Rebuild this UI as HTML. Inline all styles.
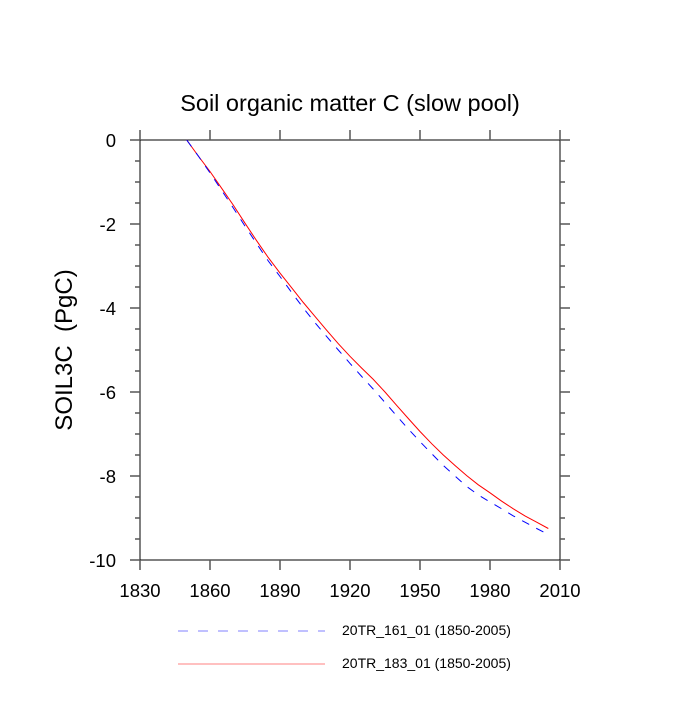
<!DOCTYPE html>
<html><head><meta charset="utf-8"><style>
html,body{margin:0;padding:0;background:#fff;}
svg text{font-family:"Liberation Sans",sans-serif;fill:#000;}
</style></head><body>
<svg id="chart" width="700" height="700" xmlns="http://www.w3.org/2000/svg">
<text x="350" y="111" font-size="23.5" text-anchor="middle">Soil organic matter C (slow pool)</text>
<text transform="translate(72,350) rotate(-90)" font-size="24" text-anchor="middle" style="white-space:pre">SOIL3C  (PgC)</text>
<g id="axes"></g>
<g id="series"></g>
<g>
<line x1="178" y1="631" x2="325" y2="631" stroke="#8080ff" stroke-width="1" stroke-dasharray="10,10"/>
<text x="342" y="635" font-size="14">20TR_161_01 (1850-2005)</text>
<line x1="178" y1="664" x2="325" y2="664" stroke="#ff8080" stroke-width="1"/>
<text x="342" y="668" font-size="14">20TR_183_01 (1850-2005)</text>
</g>
</svg>
<script>
const years = [1850,1855,1860,1865,1870,1875,1880,1885,1890,1895,1900,1905,1910,1915,1920,1925,1930,1935,1940,1945,1950,1955,1960,1965,1970,1975,1980,1985,1990,1995,2000,2005];
const series161 = [0,-0.38,-0.78,-1.2,-1.62,-2.05,-2.47,-2.88,-3.25,-3.63,-4.0,-4.35,-4.68,-5.0,-5.32,-5.63,-5.93,-6.25,-6.57,-6.88,-7.18,-7.47,-7.75,-8.0,-8.25,-8.45,-8.62,-8.78,-8.95,-9.1,-9.25,-9.39];
const series183 = [0,-0.38,-0.75,-1.15,-1.55,-1.98,-2.4,-2.8,-3.17,-3.52,-3.87,-4.2,-4.53,-4.85,-5.15,-5.43,-5.7,-6.0,-6.32,-6.63,-6.94,-7.23,-7.5,-7.75,-7.99,-8.21,-8.4,-8.6,-8.78,-8.95,-9.1,-9.25];
const xTicks = [1830,1860,1890,1920,1950,1980,2010];
const yTicks = [0,-2,-4,-6,-8,-10];

const L=140,R=560,T=140,B=560;
const sx=v=>L+(v-1830)/(2010-1830)*(R-L);
const sy=v=>T+(0-v)/(10)*(B-T);
const NS="http://www.w3.org/2000/svg";
function mk(tag,attrs,parent){const e=document.createElementNS(NS,tag);for(const k in attrs)e.setAttribute(k,attrs[k]);parent.appendChild(e);return e;}
const ax=document.getElementById('axes');
const st={stroke:'#555','stroke-width':1.5};
let fr=mk('rect',{x:L,y:T,width:R-L,height:B-T,fill:'none',stroke:'#000','stroke-width':1},ax);


xTicks.forEach(v=>{
  const x=sx(v);
  const t1=mk('line',{x1:x,y1:B,x2:x,y2:B+10,...st},ax);
  
  
  const t2=mk('line',{x1:x,y1:T,x2:x,y2:T-10,...st},ax);
  
  
  const tx=mk('text',{x:x,y:B+37,'font-size':18.5,'text-anchor':'middle'},ax);
  tx.textContent=v;
  
  
});
for(let v=0;v>=-10;v-=0.5){
  const y=sy(v);const major=Math.abs(v%2)<1e-9;
  const len=major?10:5;
  const a=mk('line',{x1:L,y1:y,x2:L-len,y2:y,...st},ax);
  
  
  const b=mk('line',{x1:R,y1:y,x2:R+len,y2:y,...st},ax);
  
  
}
yTicks.forEach(v=>{
  const tx=mk('text',{x:L-24,y:sy(v)+7,'font-size':18.5,'text-anchor':'end'},ax);
  tx.textContent=v;
  
  
});
const sg=document.getElementById('series');
function pts(arr){return years.map((y,i)=>sx(y).toFixed(1)+','+sy(arr[i]).toFixed(1)).join(' ');}
const p1=mk('polyline',{points:pts(series183),fill:'none',stroke:'#ff0000','stroke-width':1},sg);


const p2=mk('polyline',{points:pts(series161),fill:'none',stroke:'#0000ff','stroke-width':1,'stroke-dasharray':'8,8'},sg);


</script>
</body></html>
